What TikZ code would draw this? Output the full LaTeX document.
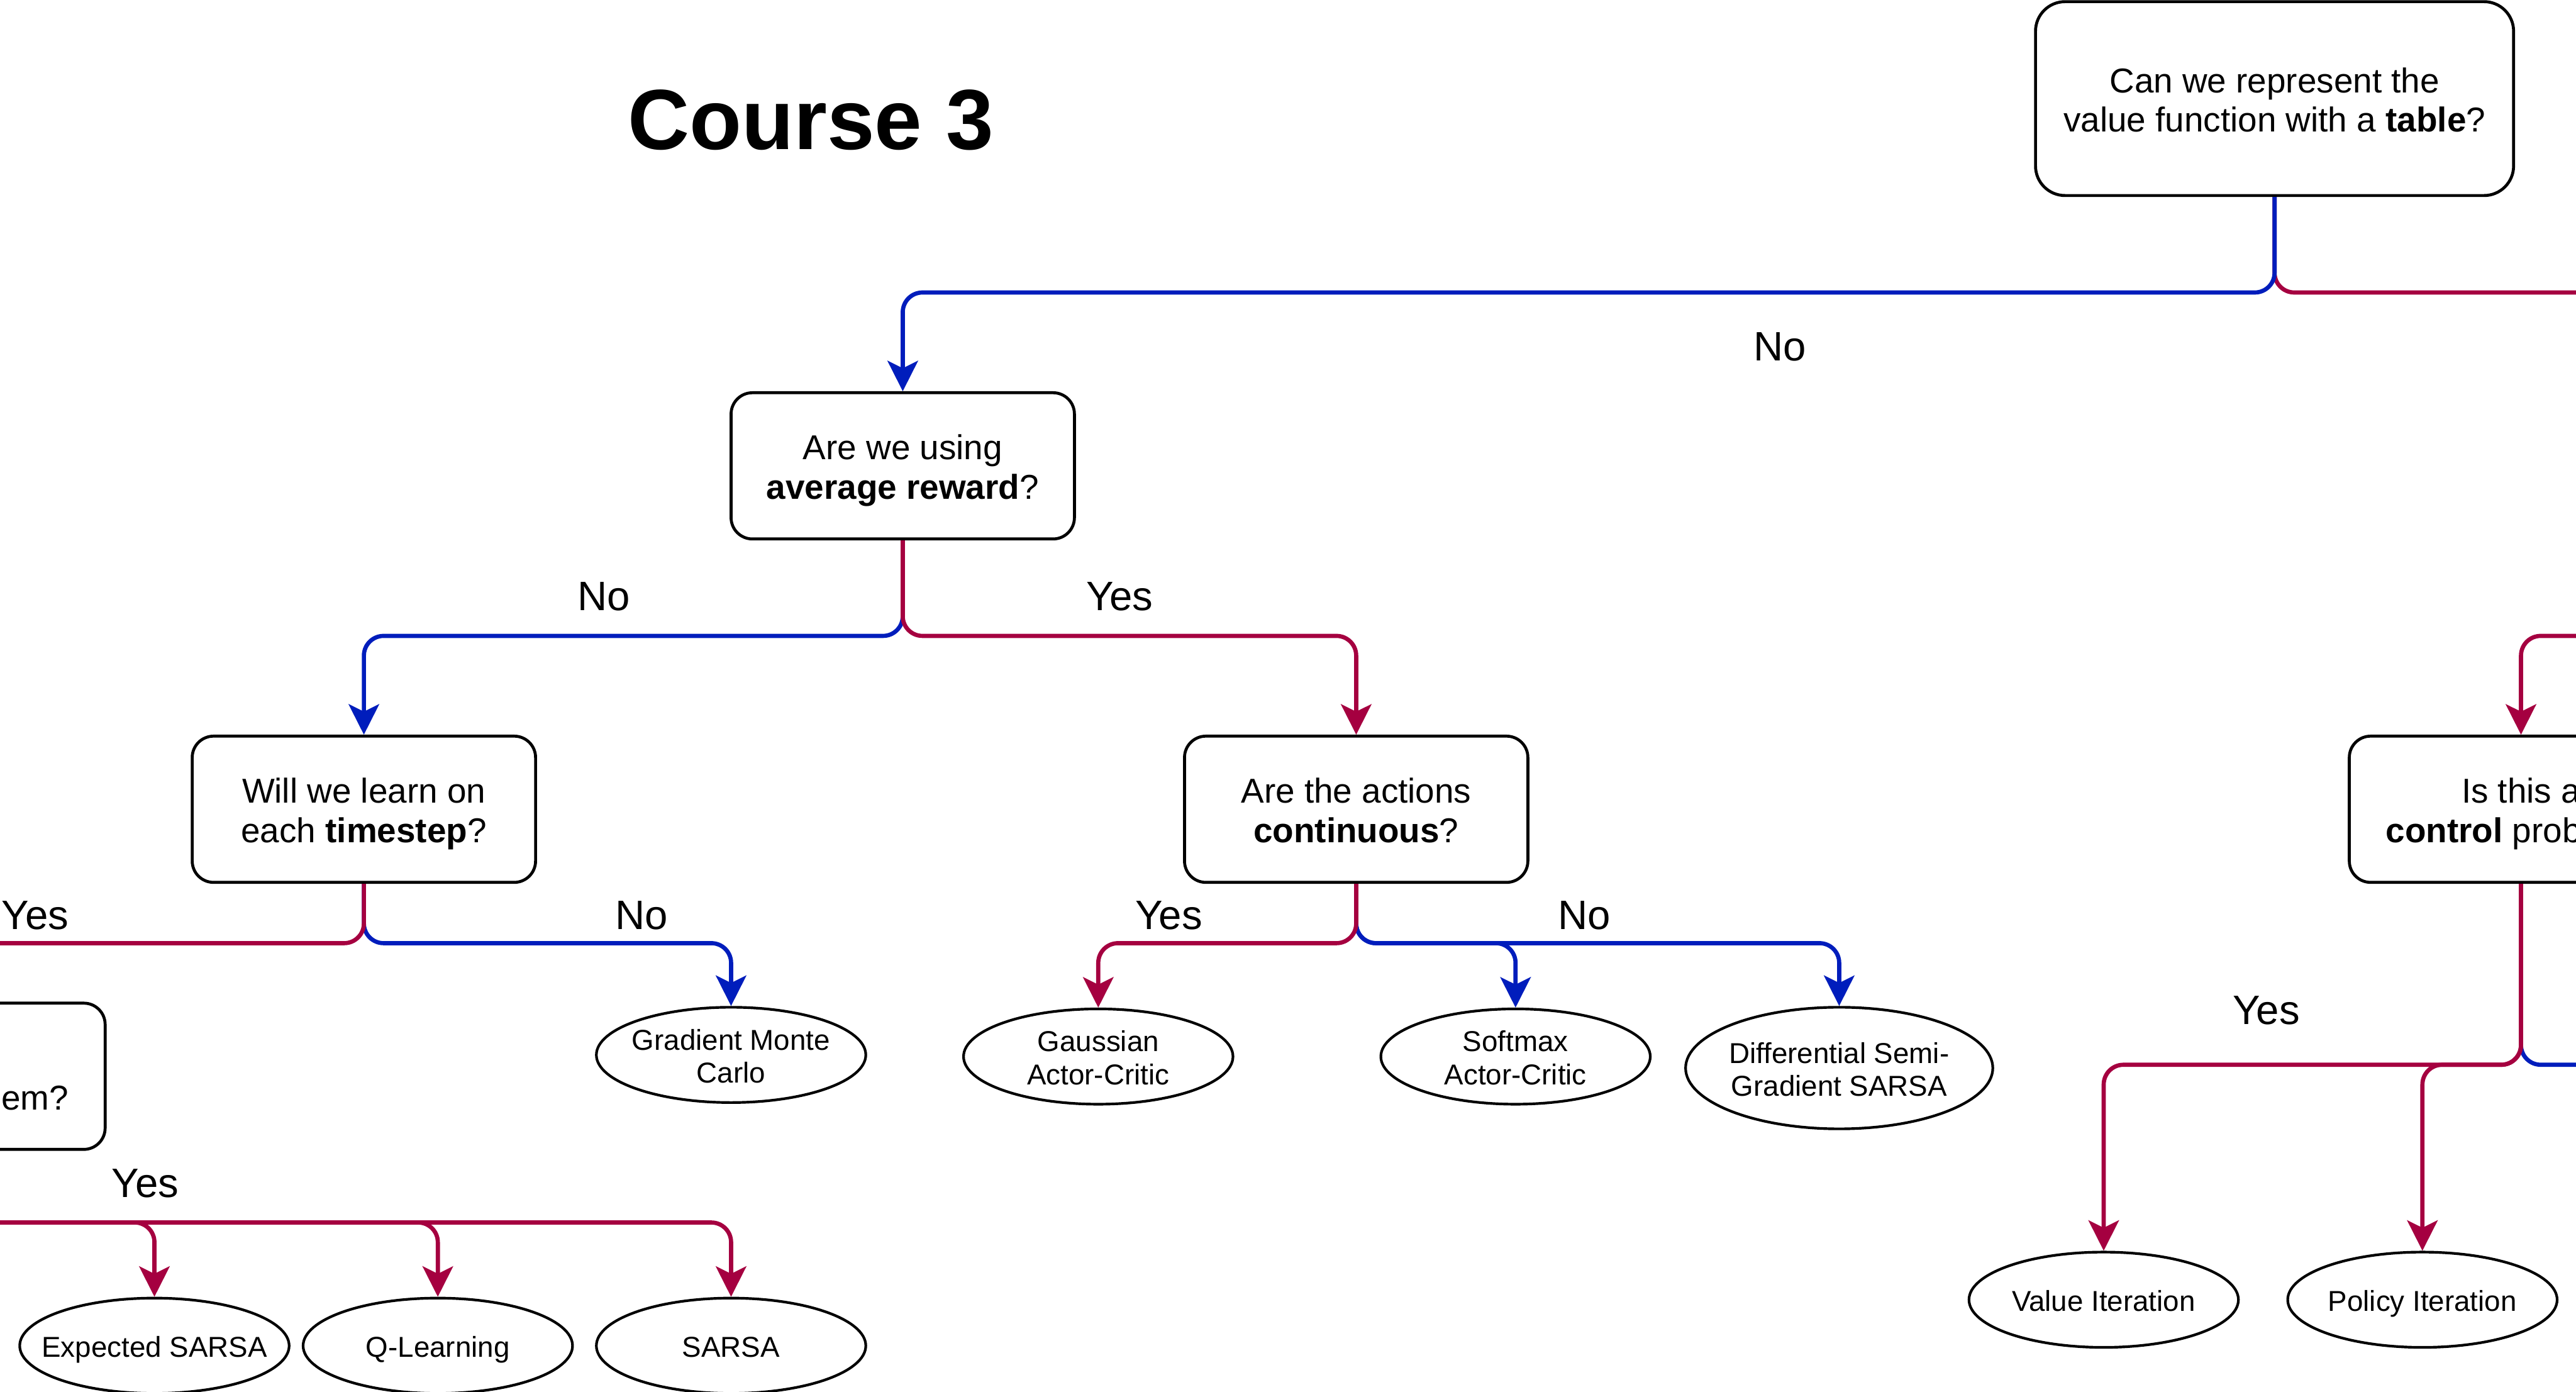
\documentclass[tikz,border=0pt]{standalone}
\usepackage{fontspec}
\setmainfont{Liberation Sans}
\usetikzlibrary{arrows.meta,shapes.geometric}
\definecolor{nocol}{HTML}{001DBC}
\definecolor{yescol}{HTML}{A50040}
% centred multi-line text, lowered a little inside its shape
\newcommand\qtext[1]{\raisebox{-3.5pt}[\height][\depth]{\begin{tabular}{@{}c@{}}#1\end{tabular}}}
% same for the fixed-size leaf ellipses, which must not grow with their text
\newcommand\leaftext[1]{\makebox[0pt]{\raisebox{-3pt}[\height][\depth]{\begin{tabular}{@{}c@{}}#1\end{tabular}}}}

\begin{document}
\begin{tikzpicture}[x=1pt,y=-1pt,
  question/.style={draw, line width=1.8pt, rounded corners=13pt,
    minimum width=209pt, minimum height=89pt, inner sep=0pt,
    font=\fontsize{21}{24}\selectfont},
  leaf/.style={draw, ellipse, line width=1.6pt, minimum width=164pt,
    minimum height=58pt, inner sep=0pt, font=\fontsize{17.5}{20}\selectfont},
  branch/.style={line width=2.55pt, rounded corners=12pt},
  yesedge/.style={branch, draw=yescol, -{Stealth[length=18.5pt,width=18.5pt,inset=4.5pt,fill=yescol]}},
  noedge/.style={branch, draw=nocol, -{Stealth[length=18.5pt,width=18.5pt,inset=4.5pt,fill=nocol]}},
  answer/.style={inner sep=0pt, font=\fontsize{25}{30}\selectfont},
]
\clip (0,0) rectangle (1568,847);

% title
\node[font=\bfseries\fontsize{52}{60}\selectfont, inner sep=0pt] (title) at (493.5,73) {Course 3};

% questions
\node[question, minimum width=291pt, minimum height=118pt, rounded corners=18pt]
  (qtab) at (1384.5,60) {\qtext{Can we represent the\\value function with a \textbf{table}?}};
\node[question] (qavg)   at (549.5,283.5) {\qtext{Are we using\\\textbf{average reward}?}};
\node[question] (qstep)  at (221.5,492.5) {\qtext{Will we learn on\\each \textbf{timestep}?}};
\node[question] (qcont)  at (825.5,492.5) {\qtext{Are the actions\\\textbf{continuous}?}};
\node[question] (qctrlR) at (1534.5,492.5) {\qtext{Is this a\\\textbf{control} problem?}};
\node[question] (qctrlL) at (-40.5,655) {\qtext{Is this a\\\textbf{control} problem?}};

% algorithms
\node[leaf] (gmc) at (445,642) {\leaftext{Gradient Monte\\Carlo}};
\node[leaf] (gac) at (668.5,643) {\leaftext{Gaussian\\Actor-Critic}};
\node[leaf] (sac) at (922.5,643) {\leaftext{Softmax\\Actor-Critic}};
\node[leaf, minimum width=187pt, minimum height=74pt] (dsg) at (1119.5,650)
  {\leaftext{Differential Semi-\\Gradient SARSA}};
\node[leaf] (esarsa) at (94,819) {\leaftext{Expected SARSA}};
\node[leaf] (qlearn) at (266.5,819) {\leaftext{Q-Learning}};
\node[leaf] (sarsa)  at (445,819) {\leaftext{SARSA}};
\node[leaf] (vi) at (1280.5,791) {\leaftext{Value Iteration}};
\node[leaf] (pi) at (1474.5,791) {\leaftext{Policy Iteration}};

% branch levels and continuations beyond the frame
\coordinate (lvtop)   at (0,178);
\coordinate (lvavg)   at (0,387);
\coordinate (lvstep)  at (0,574);
\coordinate (lvctrlL) at (0,744);
\coordinate (lvctrlR) at (0,648);
\coordinate (offtop)  at (1640,178);
\coordinate (offin)   at (1640,387);
\coordinate (offctrl) at (1640,648);

% table question
\draw[yesedge] (qtab.south) |- (offtop);
\draw[noedge] (qtab.south) |- (qavg.north |- lvtop) -- (qavg.north);

% incoming branch of the tabular side
\draw[yesedge] (offin) -| (qctrlR.north);

% average reward question
\draw[noedge] (qavg.south) |- (qstep.north |- lvavg) -- (qstep.north);
\draw[yesedge] (qavg.south) |- (qcont.north |- lvavg) -- (qcont.north);

% timestep question
\draw[noedge] (qstep.south) |- (gmc.north |- lvstep) -- (gmc.north);
\draw[yesedge] (qstep.south) |- (qctrlL.north |- lvstep) -- (qctrlL.north);

% continuous actions question
\draw[noedge] (qcont.south) |- (sac.north |- lvstep) -- (sac.north);
\draw[noedge] (qcont.south) |- (dsg.north |- lvstep) -- (dsg.north);
\draw[yesedge] (qcont.south) |- (gac.north |- lvstep) -- (gac.north);

% control question, function approximation
\draw[yesedge] (qctrlL.south) |- (esarsa.north |- lvctrlL) -- (esarsa.north);
\draw[yesedge] (qctrlL.south) |- (qlearn.north |- lvctrlL) -- (qlearn.north);
\draw[yesedge] (qctrlL.south) |- (sarsa.north |- lvctrlL) -- (sarsa.north);

% control question, tabular
\draw[noedge] (qctrlR.south) |- (offctrl);
\draw[yesedge] (qctrlR.south) |- (vi.north |- lvctrlR) -- (vi.north);
\draw[yesedge] (qctrlR.south) |- (pi.north |- lvctrlR) -- (pi.north);

% answers
\node[answer] (atabno)   at (1083.5,211) {No};
\node[answer] (aavgno)   at (367.5,363) {No};
\node[answer] (aavgyes)  at (681.5,363) {Yes};
\node[answer] (astepyes) at (21.5,557) {Yes};
\node[answer] (astepno)  at (390.5,557) {No};
\node[answer] (acontyes) at (711.5,557) {Yes};
\node[answer] (acontno)  at (964.5,557) {No};
\node[answer] (actrlLyes) at (88.5,720) {Yes};
\node[answer] (actrlRyes) at (1379.5,615) {Yes};
\end{tikzpicture}
\end{document}
